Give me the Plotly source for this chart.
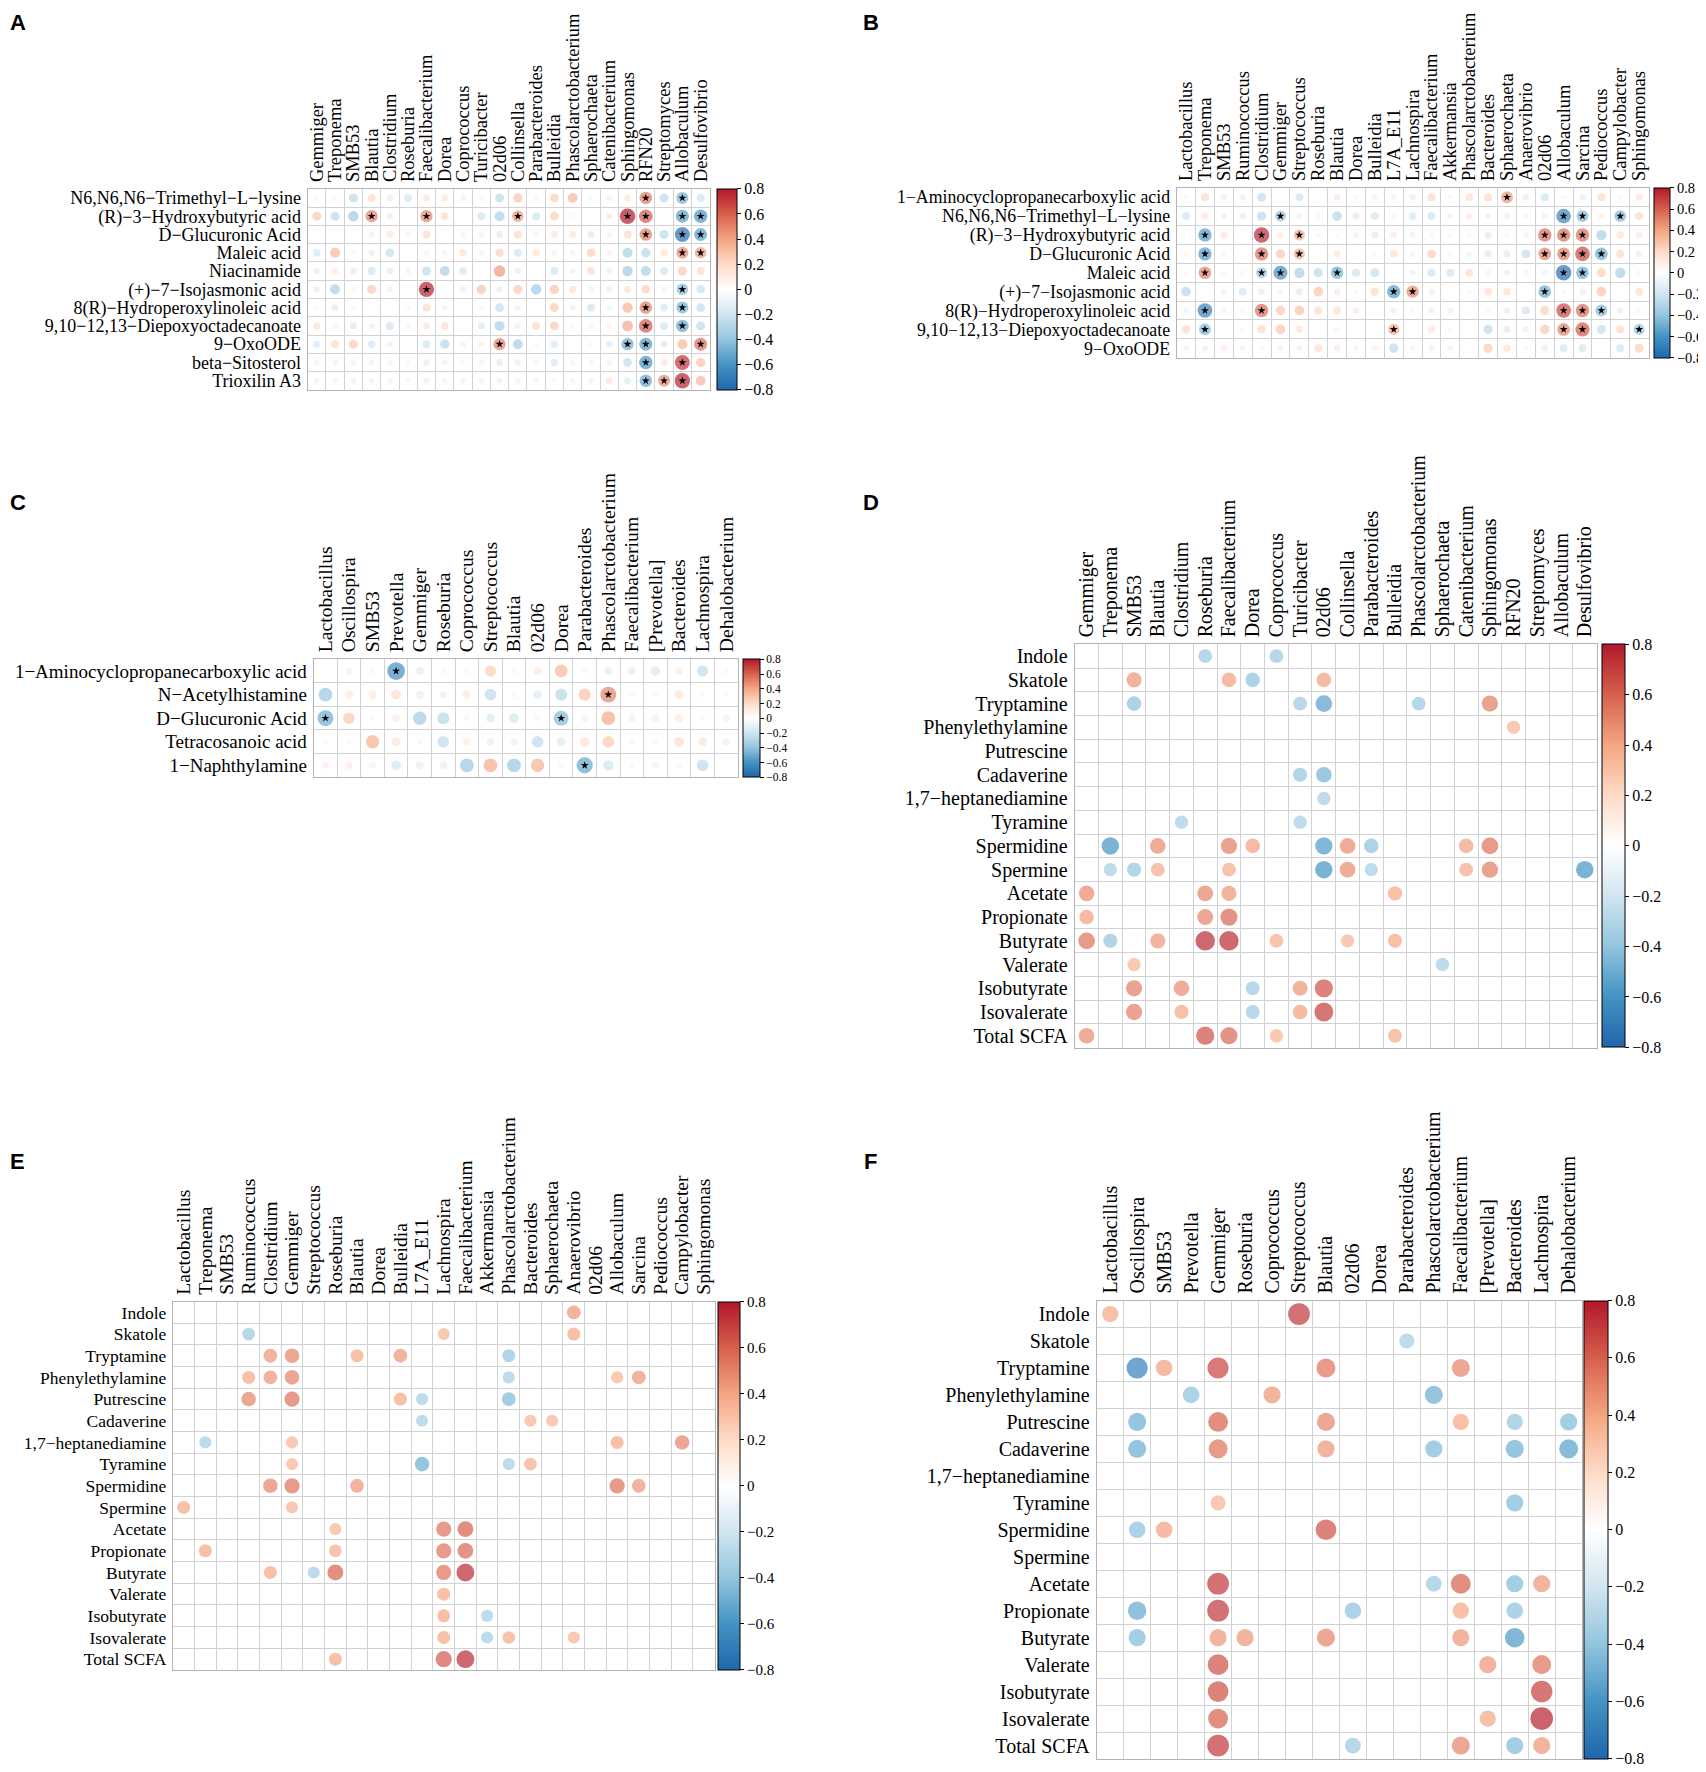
import math
import plotly.graph_objects as go

W, H = 1706, 1772
# the page body adds an 8px margin, so positions are measured from (8, 8)
OFF = 8

# ---------------- panel A ----------------
A_rows = ["N6,N6,N6−Trimethyl−L−lysine", "(R)−3−Hydroxybutyric acid", "D−Glucuronic Acid",
          "Maleic acid", "Niacinamide", "(+)−7−Isojasmonic acid", "8(R)−Hydroperoxylinoleic acid",
          "9,10−12,13−Diepoxyoctadecanoate", "9−OxoODE", "beta−Sitosterol", "Trioxilin A3"]
A_cols = ["Gemmiger", "Treponema", "SMB53", "Blautia", "Clostridium", "Roseburia", "Faecalibacterium",
          "Dorea", "Coprococcus", "Turicibacter", "02d06", "Collinsella", "Parabacteroides", "Bulleidia",
          "Phascolarctobacterium", "Sphaerochaeta", "Catenibacterium", "Sphingomonas", "RFN20",
          "Streptomyces", "Allobaculum", "Desulfovibrio"]
A_vals = [
    [0.06, 0.06, -0.27, 0.21, -0.13, -0.2, 0.155, 0.155, -0.1, 0.07, -0.27, 0.29, 0.06, 0.25, 0.33, -0.07, -0.1, 0.155, 0.52, -0.27, -0.48, -0.21],
    [0.27, -0.27, -0.36, 0.5, -0.13, 0.06, 0.5, 0.21, 0, -0.21, -0.33, 0.44, -0.21, 0.25, 0.06, 0, 0.13, 0.8, 0.62, 0.06, -0.56, -0.59],
    [0, 0, 0, 0.11, 0.155, 0.09, 0.21, 0, 0.09, 0.1, -0.155, 0.21, 0.09, 0.155, 0.155, -0.155, 0.09, 0.21, 0.52, -0.27, -0.75, -0.56],
    [-0.19, 0.33, 0.06, -0.13, -0.25, 0, 0.09, 0.1, 0.18, 0.09, 0.24, -0.21, 0.18, 0.09, 0.1, 0.25, 0.09, -0.33, -0.29, 0.18, 0.48, 0.44],
    [-0.13, 0.13, 0.155, -0.21, -0.155, -0.09, -0.27, -0.33, -0.19, 0, 0.44, -0.13, 0, -0.21, -0.1, 0.21, -0.12, -0.36, -0.33, -0.21, 0.27, 0.21],
    [0.13, -0.33, 0.06, 0.27, 0.11, 0, 0.78, 0, -0.13, 0.29, -0.12, 0.27, -0.36, 0.29, 0.18, -0.1, 0.13, 0.18, 0.24, 0.09, -0.44, -0.24],
    [0.06, -0.155, -0.07, 0, 0, 0.06, 0.21, 0.1, 0, 0.06, -0.25, 0.11, 0, 0.27, 0.11, -0.21, -0.09, 0.35, 0.52, -0.19, -0.48, -0.25],
    [0.18, 0.09, -0.155, 0.11, -0.21, 0.07, 0.155, 0.19, 0, -0.155, -0.33, 0.12, 0.21, 0.27, 0.07, 0.09, 0.09, 0.38, 0.62, -0.21, -0.52, -0.27],
    [-0.18, 0.21, 0.27, -0.19, -0.11, 0, -0.21, -0.29, -0.1, 0.11, 0.5, -0.33, -0.07, -0.18, 0, 0.06, -0.155, -0.5, -0.56, -0.155, 0.33, 0.56],
    [0.09, 0.1, 0.1, 0.1, -0.09, 0.07, -0.13, -0.1, 0.07, 0.09, -0.155, -0.13, 0.09, -0.18, 0.09, 0.09, 0.1, -0.25, -0.59, 0.155, 0.73, 0.29],
    [-0.1, 0.09, 0.11, -0.1, 0.09, 0.07, -0.11, 0.09, -0.09, 0.1, -0.11, 0.1, -0.09, 0.07, 0.09, 0.1, 0.155, -0.155, -0.52, 0.48, 0.78, 0.33],
]
A_stars = [(0, "RFN20"), (0, "Allobaculum"), (1, "Blautia"), (1, "Faecalibacterium"), (1, "Collinsella"),
           (1, "Sphingomonas"), (1, "RFN20"), (1, "Allobaculum"), (1, "Desulfovibrio"), (2, "RFN20"),
           (2, "Allobaculum"), (2, "Desulfovibrio"), (3, "Allobaculum"), (3, "Desulfovibrio"),
           (5, "Faecalibacterium"), (5, "Allobaculum"), (6, "RFN20"), (6, "Allobaculum"), (7, "RFN20"),
           (7, "Allobaculum"), (8, "02d06"), (8, "Sphingomonas"), (8, "RFN20"), (8, "Desulfovibrio"),
           (9, "RFN20"), (9, "Allobaculum"), (10, "RFN20"), (10, "Streptomyces"), (10, "Allobaculum")]

# ---------------- panel B ----------------
B_rows = ["1−Aminocyclopropanecarboxylic acid", "N6,N6,N6−Trimethyl−L−lysine", "(R)−3−Hydroxybutyric acid",
          "D−Glucuronic Acid", "Maleic acid", "(+)−7−Isojasmonic acid", "8(R)−Hydroperoxylinoleic acid",
          "9,10−12,13−Diepoxyoctadecanoate", "9−OxoODE"]
B_cols = ["Lactobacillus", "Treponema", "SMB53", "Ruminococcus", "Clostridium", "Gemmiger", "Streptococcus",
          "Roseburia", "Blautia", "Dorea", "Bulleidia", "L7A_E11", "Lachnospira", "Faecalibacterium",
          "Akkermansia", "Phascolarctobacterium", "Bacteroides", "Sphaerochaeta", "Anaerovibrio", "02d06",
          "Allobaculum", "Sarcina", "Pediococcus", "Campylobacter", "Sphingomonas"]
B_vals = [
    [0.07, 0.21, 0.12, -0.12, -0.25, 0, -0.21, 0, 0.13, 0.07, 0.1, -0.09, -0.13, 0.21, 0.07, 0.18, 0.21, 0.44, -0.13, -0.21, -0.07, -0.13, 0.21, 0.07, 0.155],
    [-0.21, 0.155, -0.1, -0.13, -0.27, -0.38, -0.1, -0.07, -0.29, -0.155, -0.19, 0.06, -0.19, -0.21, -0.1, 0.13, -0.12, -0.11, -0.07, -0.1, -0.67, -0.44, 0.11, -0.44, 0.21],
    [0, -0.56, 0.155, 0, 0.75, 0.12, 0.38, 0.07, 0.06, -0.1, -0.155, 0.13, -0.11, 0.07, 0.07, 0.06, -0.155, 0.07, -0.09, 0.56, 0.56, 0.56, -0.33, 0.18, 0.13],
    [0.06, -0.56, 0.07, 0, 0.56, 0.27, 0.38, 0, 0.155, 0, 0.06, 0.18, 0.09, 0.25, 0.06, 0.09, -0.155, -0.155, -0.25, 0.5, 0.52, 0.67, -0.5, 0.21, -0.13],
    [0.06, 0.5, 0.07, 0.07, -0.38, -0.62, -0.33, -0.27, -0.48, -0.21, -0.25, 0, -0.11, -0.21, -0.21, 0.19, 0.09, 0.12, 0.09, -0.1, -0.75, -0.5, 0.25, -0.33, 0.07],
    [-0.29, 0, 0.1, -0.19, -0.13, 0.09, -0.155, 0.29, 0.13, 0.06, 0.21, -0.56, 0.48, 0.12, 0, 0.07, 0.19, 0.18, 0, -0.5, 0.06, -0.12, 0.29, 0, 0.19],
    [-0.09, -0.67, 0.09, 0.07, 0.56, 0.27, 0.29, 0.19, 0.19, 0.13, 0, 0.12, 0.06, 0.12, 0.11, 0, 0.06, -0.13, -0.21, 0.25, 0.67, 0.56, -0.44, 0.12, 0.07],
    [0.21, -0.44, 0, 0.06, 0.21, 0.29, 0.155, 0, 0.09, 0, 0, 0.38, 0, 0.155, 0.07, 0, -0.27, -0.155, -0.11, 0.27, 0.5, 0.62, -0.25, 0.21, -0.38],
    [-0.1, 0.12, 0.13, 0.1, -0.07, 0.11, -0.1, 0.19, 0.13, 0.09, 0.1, -0.27, 0.09, 0.12, 0.1, 0, 0.27, 0.18, 0.07, -0.13, -0.19, -0.19, 0, -0.21, 0.25],
]
B_stars = [(0, "Sphaerochaeta"), (1, "Gemmiger"), (1, "Allobaculum"), (1, "Sarcina"), (1, "Campylobacter"),
           (2, "Treponema"), (2, "Clostridium"), (2, "Streptococcus"), (2, "02d06"), (2, "Allobaculum"),
           (2, "Sarcina"), (3, "Treponema"), (3, "Clostridium"), (3, "Streptococcus"), (3, "02d06"),
           (3, "Allobaculum"), (3, "Sarcina"), (3, "Pediococcus"), (4, "Treponema"), (4, "Clostridium"),
           (4, "Gemmiger"), (4, "Blautia"), (4, "Allobaculum"), (4, "Sarcina"), (5, "L7A_E11"),
           (5, "Lachnospira"), (5, "02d06"), (6, "Treponema"), (6, "Clostridium"), (6, "Allobaculum"),
           (6, "Sarcina"), (6, "Pediococcus"), (7, "Treponema"), (7, "L7A_E11"), (7, "Allobaculum"),
           (7, "Sarcina"), (7, "Sphingomonas")]

# ---------------- panel C ----------------
C_rows = ["1−Aminocyclopropanecarboxylic acid", "N−Acetylhistamine", "D−Glucuronic Acid",
          "Tetracosanoic acid", "1−Naphthylamine"]
C_cols = ["Lactobacillus", "Oscillospira", "SMB53", "Prevotella", "Gemmiger", "Roseburia", "Coprococcus",
          "Streptococcus", "Blautia", "02d06", "Dorea", "Parabacteroides", "Phascolarctobacterium",
          "Faecalibacterium", "[Prevotella]", "Bacteroides", "Lachnospira", "Dehalobacterium"]
C_vals = [
    [0, -0.09, 0.06, -0.62, -0.13, 0.06, 0.06, 0.25, 0.06, 0.13, 0.33, 0.06, -0.13, -0.13, -0.18, 0.12, -0.25, 0.06],
    [-0.38, 0.13, 0.13, 0.19, -0.12, -0.1, 0.13, -0.27, 0.07, -0.155, -0.29, 0.29, 0.5, 0.06, 0.06, 0.155, 0.06, 0.05],
    [-0.5, 0.27, 0.06, 0.11, -0.36, -0.29, 0.07, -0.155, -0.19, 0.07, -0.44, 0.1, 0.38, -0.1, 0.11, 0.13, 0.06, -0.09],
    [0.06, 0.06, 0.36, 0.155, 0.07, -0.27, 0.11, -0.11, 0.1, -0.27, -0.155, 0.18, 0.27, 0.06, 0.06, 0.19, 0.155, -0.1],
    [0.1, 0.11, 0.09, -0.19, -0.12, -0.12, -0.38, 0.38, -0.38, 0.36, 0.06, -0.52, -0.21, 0.06, -0.09, 0.07, -0.27, 0],
]
C_stars = [(0, "Prevotella"), (1, "Phascolarctobacterium"), (2, "Lactobacillus"), (2, "Dorea"),
           (4, "Parabacteroides")]

# ---------------- panels D, E, F (significant cells only) ----------------
SCFA_rows = ["Indole", "Skatole", "Tryptamine", "Phenylethylamine", "Putrescine", "Cadaverine",
             "1,7−heptanediamine", "Tyramine", "Spermidine", "Spermine", "Acetate", "Propionate",
             "Butyrate", "Valerate", "Isobutyrate", "Isovalerate", "Total SCFA"]
D_cols = A_cols
E_cols = B_cols
F_cols = C_cols

D_cells = [
    ("Indole", "Roseburia", -0.38), ("Indole", "Coprococcus", -0.38),
    ("Skatole", "SMB53", 0.45), ("Skatole", "Faecalibacterium", 0.42), ("Skatole", "Dorea", -0.42), ("Skatole", "02d06", 0.42),
    ("Tryptamine", "SMB53", -0.42), ("Tryptamine", "Turicibacter", -0.38), ("Tryptamine", "02d06", -0.55),
    ("Tryptamine", "Phascolarctobacterium", -0.38), ("Tryptamine", "Sphingomonas", 0.52),
    ("Phenylethylamine", "RFN20", 0.35),
    ("Cadaverine", "Turicibacter", -0.4), ("Cadaverine", "02d06", -0.48),
    ("1,7−heptanediamine", "02d06", -0.35),
    ("Tyramine", "Clostridium", -0.35), ("Tyramine", "Turicibacter", -0.35),
    ("Spermidine", "Treponema", -0.6), ("Spermidine", "Blautia", 0.48), ("Spermidine", "Faecalibacterium", 0.52),
    ("Spermidine", "Dorea", 0.42), ("Spermidine", "02d06", -0.58), ("Spermidine", "Collinsella", 0.48),
    ("Spermidine", "Parabacteroides", -0.42), ("Spermidine", "Catenibacterium", 0.42), ("Spermidine", "Sphingomonas", 0.55),
    ("Spermine", "Treponema", -0.35), ("Spermine", "SMB53", -0.4), ("Spermine", "Blautia", 0.38),
    ("Spermine", "Faecalibacterium", 0.38), ("Spermine", "02d06", -0.6), ("Spermine", "Collinsella", 0.48),
    ("Spermine", "Parabacteroides", -0.35), ("Spermine", "Catenibacterium", 0.38), ("Spermine", "Sphingomonas", 0.52),
    ("Spermine", "Desulfovibrio", -0.6),
    ("Acetate", "Gemmiger", 0.48), ("Acetate", "Roseburia", 0.5), ("Acetate", "Faecalibacterium", 0.45), ("Acetate", "Bulleidia", 0.4),
    ("Propionate", "Gemmiger", 0.42), ("Propionate", "Roseburia", 0.5), ("Propionate", "Faecalibacterium", 0.58),
    ("Butyrate", "Gemmiger", 0.55), ("Butyrate", "Treponema", -0.4), ("Butyrate", "Blautia", 0.45),
    ("Butyrate", "Roseburia", 0.75), ("Butyrate", "Faecalibacterium", 0.75), ("Butyrate", "Coprococcus", 0.38),
    ("Butyrate", "Collinsella", 0.35), ("Butyrate", "Bulleidia", 0.4),
    ("Valerate", "SMB53", 0.35), ("Valerate", "Sphaerochaeta", -0.35),
    ("Isobutyrate", "SMB53", 0.52), ("Isobutyrate", "Clostridium", 0.48), ("Isobutyrate", "Dorea", -0.38),
    ("Isobutyrate", "Turicibacter", 0.45), ("Isobutyrate", "02d06", 0.65),
    ("Isovalerate", "SMB53", 0.52), ("Isovalerate", "Clostridium", 0.4), ("Isovalerate", "Dorea", -0.38),
    ("Isovalerate", "Turicibacter", 0.42), ("Isovalerate", "02d06", 0.7),
    ("Total SCFA", "Gemmiger", 0.48), ("Total SCFA", "Roseburia", 0.65), ("Total SCFA", "Faecalibacterium", 0.58),
    ("Total SCFA", "Coprococcus", 0.35), ("Total SCFA", "Bulleidia", 0.38),
]

E_cells = [
    ("Indole", "Anaerovibrio", 0.45),
    ("Skatole", "Ruminococcus", -0.38), ("Skatole", "Lachnospira", 0.35), ("Skatole", "Anaerovibrio", 0.4),
    ("Tryptamine", "Clostridium", 0.45), ("Tryptamine", "Gemmiger", 0.5), ("Tryptamine", "Blautia", 0.4),
    ("Tryptamine", "Bulleidia", 0.45), ("Tryptamine", "Phascolarctobacterium", -0.4),
    ("Phenylethylamine", "Ruminococcus", 0.4), ("Phenylethylamine", "Clostridium", 0.45), ("Phenylethylamine", "Gemmiger", 0.5),
    ("Phenylethylamine", "Phascolarctobacterium", -0.35), ("Phenylethylamine", "Allobaculum", 0.35), ("Phenylethylamine", "Sarcina", 0.45),
    ("Putrescine", "Ruminococcus", 0.5), ("Putrescine", "Gemmiger", 0.55), ("Putrescine", "Bulleidia", 0.4),
    ("Putrescine", "L7A_E11", -0.35), ("Putrescine", "Phascolarctobacterium", -0.45),
    ("Cadaverine", "L7A_E11", -0.35), ("Cadaverine", "Bacteroides", 0.35), ("Cadaverine", "Sphaerochaeta", 0.35),
    ("1,7−heptanediamine", "Treponema", -0.35), ("1,7−heptanediamine", "Gemmiger", 0.35),
    ("1,7−heptanediamine", "Allobaculum", 0.4), ("1,7−heptanediamine", "Campylobacter", 0.5),
    ("Tyramine", "Gemmiger", 0.35), ("Tyramine", "L7A_E11", -0.5), ("Tyramine", "Phascolarctobacterium", -0.35), ("Tyramine", "Bacteroides", 0.38),
    ("Spermidine", "Clostridium", 0.5), ("Spermidine", "Gemmiger", 0.55), ("Spermidine", "Blautia", 0.45),
    ("Spermidine", "Allobaculum", 0.55), ("Spermidine", "Sarcina", 0.45),
    ("Spermine", "Lactobacillus", 0.4), ("Spermine", "Gemmiger", 0.35),
    ("Acetate", "Roseburia", 0.35), ("Acetate", "Lachnospira", 0.55), ("Acetate", "Faecalibacterium", 0.6),
    ("Propionate", "Treponema", 0.4), ("Propionate", "Roseburia", 0.38), ("Propionate", "Lachnospira", 0.55), ("Propionate", "Faecalibacterium", 0.58),
    ("Butyrate", "Clostridium", 0.4), ("Butyrate", "Streptococcus", -0.35), ("Butyrate", "Roseburia", 0.6),
    ("Butyrate", "Lachnospira", 0.55), ("Butyrate", "Faecalibacterium", 0.75),
    ("Valerate", "Lachnospira", 0.4),
    ("Isobutyrate", "Lachnospira", 0.4), ("Isobutyrate", "Akkermansia", -0.35),
    ("Isovalerate", "Lachnospira", 0.4), ("Isovalerate", "Akkermansia", -0.35),
    ("Isovalerate", "Phascolarctobacterium", 0.38), ("Isovalerate", "Anaerovibrio", 0.35),
    ("Total SCFA", "Roseburia", 0.4), ("Total SCFA", "Lachnospira", 0.62), ("Total SCFA", "Faecalibacterium", 0.75),
]

F_cells = [
    ("Indole", "Lactobacillus", 0.4), ("Indole", "Streptococcus", 0.72),
    ("Skatole", "Parabacteroides", -0.35),
    ("Tryptamine", "Oscillospira", -0.68), ("Tryptamine", "SMB53", 0.42), ("Tryptamine", "Gemmiger", 0.68),
    ("Tryptamine", "Blautia", 0.55), ("Tryptamine", "Faecalibacterium", 0.5),
    ("Phenylethylamine", "Prevotella", -0.42), ("Phenylethylamine", "Coprococcus", 0.45),
    ("Phenylethylamine", "Phascolarctobacterium", -0.5),
    ("Putrescine", "Oscillospira", -0.5), ("Putrescine", "Gemmiger", 0.6), ("Putrescine", "Blautia", 0.5),
    ("Putrescine", "Faecalibacterium", 0.4), ("Putrescine", "Bacteroides", -0.4), ("Putrescine", "Dehalobacterium", -0.45),
    ("Cadaverine", "Oscillospira", -0.5), ("Cadaverine", "Gemmiger", 0.55), ("Cadaverine", "Blautia", 0.45),
    ("Cadaverine", "Phascolarctobacterium", -0.45), ("Cadaverine", "Bacteroides", -0.5), ("Cadaverine", "Dehalobacterium", -0.55),
    ("Tyramine", "Gemmiger", 0.35), ("Tyramine", "Bacteroides", -0.45),
    ("Spermidine", "Oscillospira", -0.42), ("Spermidine", "SMB53", 0.42), ("Spermidine", "Blautia", 0.65),
    ("Acetate", "Gemmiger", 0.72), ("Acetate", "Phascolarctobacterium", -0.38), ("Acetate", "Faecalibacterium", 0.6),
    ("Acetate", "Bacteroides", -0.45), ("Acetate", "Lachnospira", 0.45),
    ("Propionate", "Oscillospira", -0.52), ("Propionate", "Gemmiger", 0.72), ("Propionate", "02d06", -0.42),
    ("Propionate", "Faecalibacterium", 0.4), ("Propionate", "Bacteroides", -0.42),
    ("Butyrate", "Oscillospira", -0.45), ("Butyrate", "Gemmiger", 0.45), ("Butyrate", "Roseburia", 0.45),
    ("Butyrate", "Blautia", 0.5), ("Butyrate", "Faecalibacterium", 0.45), ("Butyrate", "Bacteroides", -0.58),
    ("Valerate", "Gemmiger", 0.65), ("Valerate", "[Prevotella]", 0.45), ("Valerate", "Lachnospira", 0.55),
    ("Isobutyrate", "Gemmiger", 0.65), ("Isobutyrate", "Lachnospira", 0.7),
    ("Isovalerate", "Gemmiger", 0.6), ("Isovalerate", "[Prevotella]", 0.4), ("Isovalerate", "Lachnospira", 0.78),
    ("Total SCFA", "Gemmiger", 0.72), ("Total SCFA", "02d06", -0.38), ("Total SCFA", "Faecalibacterium", 0.5),
    ("Total SCFA", "Bacteroides", -0.45), ("Total SCFA", "Lachnospira", 0.45),
]

CB_TICKS = [-0.8, -0.6, -0.4, -0.2, 0, 0.2, 0.4, 0.6, 0.8]

# corrplot-like RdBu over -0.8..0.8
SCALE = [[0.0, "#2166AC"], [0.125, "#4393C3"], [0.25, "#92C5DE"], [0.375, "#D1E5F0"], [0.5, "#FFFFFF"],
         [0.625, "#FDDBC7"], [0.75, "#F4A582"], [0.875, "#D6604D"], [1.0, "#B2182B"]]

SERIF = "Liberation Serif"
fig = go.Figure()
layout = {}


def px_x(x):
    return (x - OFF) / W


def px_y(y):
    return 1 - (y - OFF) / H


def matrix_cells(rows, cols, vals):
    out = []
    for i, r in enumerate(rows):
        for j, c in enumerate(cols):
            if vals[i][j] != 0:
                out.append((r, c, vals[i][j]))
    return out


def add_panel(k, letter, rows, cols, cells, stars, left, top, cell, cb_x, cb_thick,
              row_fs, col_fs, cb_fs, lx, ly):
    nx, ny = len(cols), len(rows)
    xa = "x" if k == 1 else f"x{k}"
    ya = "y" if k == 1 else f"y{k}"
    rs = [v for _, _, v in cells]
    fig.add_trace(go.Scatter(
        x=[cols.index(c) for _, c, _ in cells], y=[rows.index(r) for r, _, _ in cells],
        mode="markers", xaxis=xa, yaxis=ya, hoverinfo="skip", showlegend=False,
        marker=dict(size=[0.95 * math.sqrt(abs(v)) * cell for v in rs], color=rs, colorscale=SCALE,
                    cmin=-0.8, cmax=0.8, line=dict(width=0),
                    colorbar=dict(x=px_x(cb_x), xanchor="left", y=px_y(top), yanchor="top",
                                  len=ny * cell / H, lenmode="fraction", thickness=cb_thick,
                                  tickvals=CB_TICKS, ticks="outside", ticklen=4, tickcolor="black",
                                  outlinewidth=1, outlinecolor="black", xpad=0, ypad=0,
                                  tickfont=dict(family=SERIF, size=cb_fs, color="black"))),
    ))
    if stars:
        fig.add_trace(go.Scatter(
            x=[cols.index(c) for _, c in stars], y=[s[0] for s in stars], mode="markers",
            xaxis=xa, yaxis=ya, hoverinfo="skip", showlegend=False,
            marker=dict(symbol="star", size=6, color="black", line=dict(width=0)),
        ))
    common = dict(showgrid=False, zeroline=False, showline=True, mirror=True, linecolor="#b4b4b4",
                  linewidth=1, ticks="", fixedrange=True, ticklabelstandoff=2, tickmode="array")
    layout["xaxis" if k == 1 else f"xaxis{k}"] = dict(
        domain=[px_x(left), px_x(left + nx * cell)], anchor=ya, range=[-0.5, nx - 0.5],
        tickvals=list(range(nx)), ticktext=cols, side="top", tickangle=-90,
        tickfont=dict(family=SERIF, size=col_fs, color="black"),
        minor=dict(tickmode="array", tickvals=[i + 0.5 for i in range(nx - 1)], showgrid=True,
                   gridcolor="#d2d2d2", gridwidth=1, ticks=""), **common)
    layout["yaxis" if k == 1 else f"yaxis{k}"] = dict(
        domain=[px_y(top + ny * cell), px_y(top)], anchor=xa, range=[ny - 0.5, -0.5],
        tickvals=list(range(ny)), ticktext=rows,
        tickfont=dict(family=SERIF, size=row_fs, color="black"),
        minor=dict(tickmode="array", tickvals=[i + 0.5 for i in range(ny - 1)], showgrid=True,
                   gridcolor="#d2d2d2", gridwidth=1, ticks=""), **common)
    fig.add_annotation(x=px_x(lx), y=px_y(ly), xref="paper", yref="paper", text=f"<b>{letter}</b>",
                       showarrow=False, xanchor="center", yanchor="middle",
                       font=dict(family="Liberation Sans", size=22, color="black"))


add_panel(1, "A", A_rows, A_cols, matrix_cells(A_rows, A_cols, A_vals), A_stars,
          307, 188, 18.3, 717, 20, 18, 18.5, 16, 17, 22)
add_panel(2, "B", B_rows, B_cols, matrix_cells(B_rows, B_cols, B_vals), B_stars,
          1177, 187, 18.9, 1655, 16, 17.8, 18.5, 14.5, 871, 22)
add_panel(3, "C", C_rows, C_cols, matrix_cells(C_rows, C_cols, C_vals), C_stars,
          313, 659, 23.6, 743, 17, 19, 19.7, 11.5, 17, 502)
add_panel(4, "D", SCFA_rows, D_cols, D_cells, None, 1075, 644, 23.75, 1603, 23, 20, 20, 16, 871, 502)
add_panel(5, "E", SCFA_rows, E_cols, E_cells, None, 172, 1302, 21.7, 718, 22, 17.5, 19.5, 15, 17, 1162)
add_panel(6, "F", SCFA_rows, F_cols, F_cells, None, 1097, 1301, 27.0, 1585, 24, 20, 20, 16, 871, 1162)

fig.update_layout(width=W, height=H, margin=dict(l=0, r=0, t=0, b=0), paper_bgcolor="white",
                  plot_bgcolor="white", showlegend=False, **layout)

fig.write_html("out.html")
